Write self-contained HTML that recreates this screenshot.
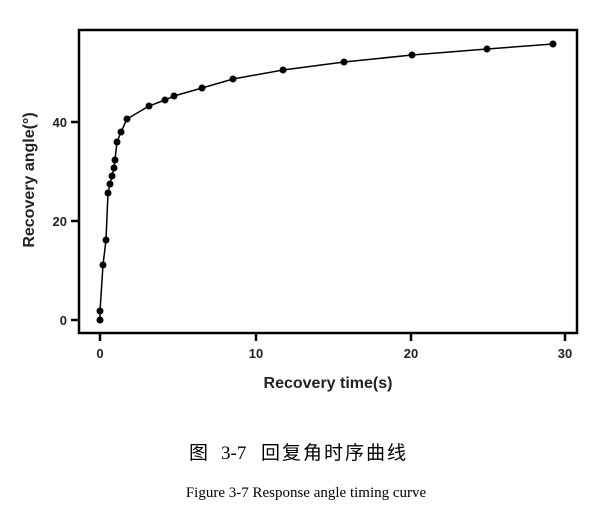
<!DOCTYPE html>
<html><head><meta charset="utf-8"><style>
html,body{margin:0;padding:0;background:#fff;width:612px;height:518px;overflow:hidden}
</style></head><body>
<svg width="612" height="518" xmlns="http://www.w3.org/2000/svg">
<rect x="79" y="30" width="498" height="303" fill="none" stroke="#000" stroke-width="2.5"/>
<g stroke="#000" stroke-width="2.5">
<line x1="71" y1="320" x2="79" y2="320"/><line x1="71" y1="221" x2="79" y2="221"/><line x1="71" y1="122" x2="79" y2="122"/>
<line x1="100" y1="333" x2="100" y2="341"/><line x1="256" y1="333" x2="256" y2="341"/><line x1="411" y1="333" x2="411" y2="341"/><line x1="565" y1="333" x2="565" y2="341"/>
</g>
<g font-family="Liberation Sans, sans-serif" font-weight="bold" font-size="13" fill="#222">
<text x="67" y="325" text-anchor="end">0</text><text x="67" y="226" text-anchor="end">20</text><text x="67" y="127" text-anchor="end">40</text>
<text x="100" y="358" text-anchor="middle">0</text><text x="256" y="358" text-anchor="middle">10</text><text x="411" y="358" text-anchor="middle">20</text><text x="565" y="358" text-anchor="middle">30</text>
</g>
<text x="328" y="388" text-anchor="middle" font-family="Liberation Sans, sans-serif" font-weight="bold" font-size="16" fill="#222">Recovery time(s)</text>
<text transform="translate(34,180) rotate(-90)" text-anchor="middle" font-family="Liberation Sans, sans-serif" font-weight="bold" font-size="16" fill="#222">Recovery angle(°)</text>
<polyline fill="none" stroke="#000" stroke-width="1.5" points="100,320 100,311 103,265 106,240 108,193 110,184 112,176 114,168 115,160 117,142 121,132 127,119 149,106 165,100 174,96 202,88 233,79 283,70 344,62 412,55 487,49 553,44"/>
<g fill="#000">
<circle cx="100" cy="320" r="3.5"/><circle cx="100" cy="311" r="3.5"/><circle cx="103" cy="265" r="3.5"/><circle cx="106" cy="240" r="3.5"/><circle cx="108" cy="193" r="3.5"/><circle cx="110" cy="184" r="3.5"/><circle cx="112" cy="176" r="3.5"/><circle cx="114" cy="168" r="3.5"/><circle cx="115" cy="160" r="3.5"/><circle cx="117" cy="142" r="3.5"/><circle cx="121" cy="132" r="3.5"/><circle cx="127" cy="119" r="3.5"/><circle cx="149" cy="106" r="3.5"/><circle cx="165" cy="100" r="3.5"/><circle cx="174" cy="96" r="3.5"/><circle cx="202" cy="88" r="3.5"/><circle cx="233" cy="79" r="3.5"/><circle cx="283" cy="70" r="3.5"/><circle cx="344" cy="62" r="3.5"/><circle cx="412" cy="55" r="3.5"/><circle cx="487" cy="49" r="3.5"/><circle cx="553" cy="44" r="3.5"/>
</g>
<g font-family="Liberation Serif, 'Noto Sans CJK SC', serif" font-size="19" fill="#000">
<text x="189" y="459">图</text>
<text x="221" y="459">3-7</text>
<text x="261" y="459" letter-spacing="2">回复角时序曲线</text>
</g>
<text x="306" y="497" text-anchor="middle" font-family="Liberation Serif, serif" font-size="15" fill="#000">Figure 3-7 Response angle timing curve</text>
</svg>
</body></html>
